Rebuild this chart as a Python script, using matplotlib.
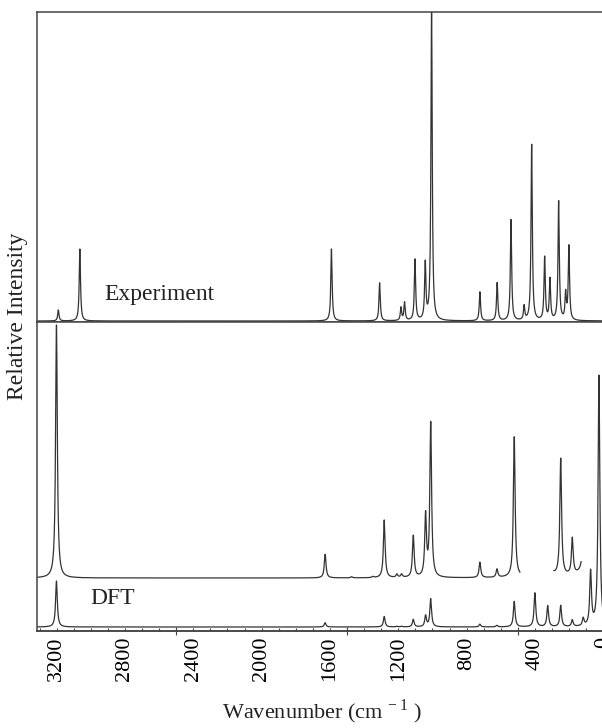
# Libs
import numpy as np
import matplotlib
matplotlib.use("Agg")
import matplotlib.pyplot as plt
from matplotlib.ticker import MultipleLocator


# --- Data ---

# Experimental bands: position (cm-1) and peak height above baseline
exp_positions = [3190, 3064, 1591, 1309, 1184, 1163, 1102, 1042, 1005,
                 722, 621, 540, 463, 419, 343, 312, 261, 220, 201]
exp_heights = [11, 72, 72, 38, 13, 18, 61, 56, 312,
               29, 38, 101, 14, 176, 63, 41, 119, 26, 74]

# DFT bands (unscaled trace)
dft_positions = [3201, 1628, 1473, 1348, 1282, 1208, 1180, 1112, 1040, 1010,
                 722, 622, 521, 400, 325, 249, 181, 117, 74, 25]
dft_heights = [46, 4.3, 0.2, 0.2, 10.5, 0.6, 0.6, 7.6, 11.1, 28,
               2.8, 1.5, 25.5, 34, 21, 21.3, 6.6, 7.7, 54, 251]

# Magnified DFT trace: factor and the wavenumber windows where it is drawn
dft_zoom = 5.5
dft_zoom_ranges = [(488, 3330), (130, 289)]

x_tick_values = [3200, 2800, 2400, 2000, 1600, 1200, 800, 400, 0]
long_tick_values = [2500, 1500, 500]


# --- Helpers ---

# Builds a Lorentzian-broadened spectrum from band positions and heights
def broaden(x, centers, heights, gamma):
    y = np.zeros_like(x)
    for c, h in zip(centers, heights):
        y += h * gamma ** 2 / ((x - c) ** 2 + gamma ** 2)
    return y


# --- Plot ---

plt.rcParams["font.family"] = ["Liberation Serif", "DejaVu Serif"]
plt.rcParams["mathtext.fontset"] = "custom"
plt.rcParams["mathtext.rm"] = "Liberation Serif"

line_col = "#333333"
frame_col = "#444444"

wn = np.arange(-110.0, 3340.0, 0.25)
exp_y = broaden(wn, exp_positions, exp_heights, 4.5) + 1
dft_y = broaden(wn, dft_positions, dft_heights, 6.0)

dft_low = dft_y + 4
dft_high = dft_y * dft_zoom + 53
mask = np.zeros_like(wn, dtype=bool)
for lo, hi in dft_zoom_ranges:
    mask |= (wn >= lo) & (wn <= hi)
dft_high = np.where(mask, dft_high, np.nan)

fig = plt.figure(figsize=(6.02, 7.28), dpi=100)
left = 37 / 602
width = (620 - 37) / 602
ax_top = fig.add_axes([left, 1 - 322 / 728, width, 310 / 728])
ax_bot = fig.add_axes([left, 1 - 631 / 728, width, 309 / 728], sharex=ax_top)

ax_top.plot(wn, exp_y, color=line_col, linewidth=0.9)
ax_bot.plot(wn, dft_high, color=line_col, linewidth=0.9)
ax_bot.plot(wn, dft_low, color=line_col, linewidth=0.9)

ax_top.set_xlim(3315, -98)
ax_top.set_ylim(0, 310)
ax_bot.set_ylim(0, 309)

for ax in (ax_top, ax_bot):
    for side in ax.spines.values():
        side.set_color(frame_col)
        side.set_linewidth(1.1)
    ax.set_yticks([])

ax_top.tick_params(axis="x", which="both", bottom=False, labelbottom=False)

ax_bot.set_xticks(x_tick_values)
ax_bot.set_xticklabels([str(v) for v in x_tick_values], rotation=90, fontsize=16)
ax_bot.xaxis.set_minor_locator(MultipleLocator(100))
ax_bot.tick_params(axis="x", which="both", direction="in", length=2.5,
                   width=0.8, color=frame_col, pad=4, top=False)

sec = ax_bot.secondary_xaxis("bottom")
sec.set_xticks(long_tick_values)
sec.set_xticklabels([])
sec.tick_params(direction="inout", length=6, width=0.8, color=frame_col)
sec.spines["bottom"].set_color(frame_col)
sec.spines["bottom"].set_linewidth(1.1)

ax_top.text(0.115, 0.071, "Experiment", transform=ax_top.transAxes,
            fontsize=17, va="baseline", ha="left", color="#222222")
ax_bot.text(0.091, 0.087, "DFT", transform=ax_bot.transAxes,
            fontsize=17, va="baseline", ha="left", color="#222222")

fig.text(18 / 602, 1 - 316 / 728, "Relative Intensity", rotation=90,
         fontsize=17, ha="center", va="center", color="#222222")
fig.text(322 / 602, 1 - 712 / 728, r"Wavenumber (cm$^{\,-1}$ )",
         fontsize=16, ha="center", va="center", color="#222222")

fig.savefig("out.png", dpi=100)
plt.close(fig)
